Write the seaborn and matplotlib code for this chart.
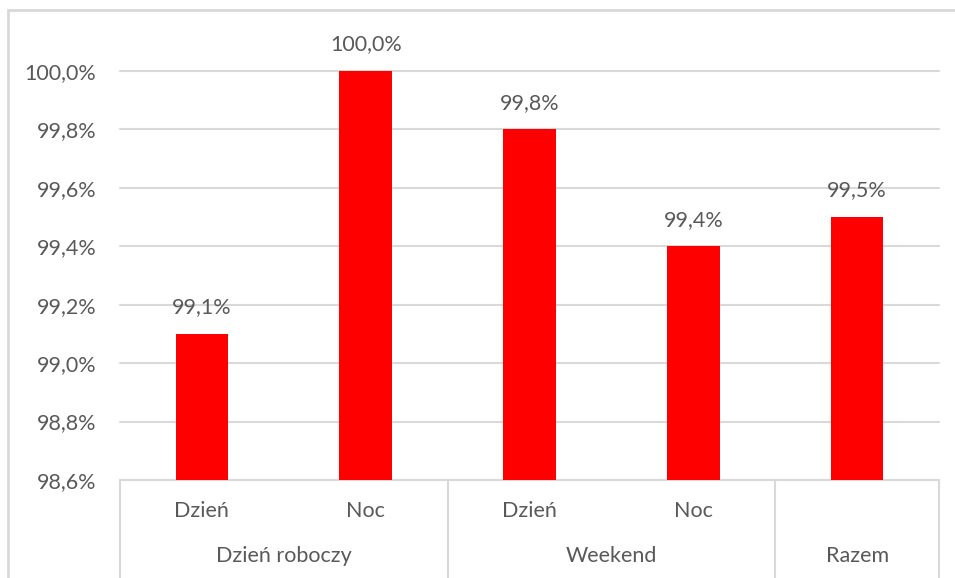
import matplotlib
matplotlib.use("Agg")
import matplotlib.pyplot as plt
import matplotlib.transforms as mtransforms
from matplotlib.lines import Line2D
import seaborn as sns
import pandas as pd

# Chart data
groups = ["Dzień roboczy", "Dzień roboczy", "Weekend", "Weekend", "Razem"]
subcats = ["Dzień", "Noc", "Dzień", "Noc", ""]
values = [99.1, 100.0, 99.8, 99.4, 99.5]
y_ticks = [98.6, 98.8, 99.0, 99.2, 99.4, 99.6, 99.8, 100.0]
group_names = ["Dzień roboczy", "Weekend", "Razem"]

sns.set_theme(style="white")
plt.rcParams["font.family"] = ["Lato", "DejaVu Sans"]

TEXT = "#595959"
GRID = "#d9d9d9"
RED = "#ff0000"
FS = 15.5

df = pd.DataFrame({
    "pos": [f"{g}|{s}|{i}" for i, (g, s) in enumerate(zip(groups, subcats))],
    "value": values,
})

fig = plt.figure(figsize=(9.55, 5.78), dpi=100)
W, H = 955, 578
ax = fig.add_axes([120 / W, 1 - 480 / H, (939 - 120) / W, (480 - 71) / H])

sns.barplot(data=df, x="pos", y="value", color=RED, width=0.32,
            saturation=1, linewidth=0, ax=ax, zorder=3)

ax.set_ylim(98.6, 100.0)
ax.set_xlim(-0.5, len(values) - 0.5)
ax.set_yticks(y_ticks)
ax.set_yticklabels([f"{v:.1f}%".replace(".", ",") for v in y_ticks],
                   fontsize=FS, color=TEXT)
ax.tick_params(axis="y", length=0, pad=17)
ax.set_xticks([])
ax.set_xlabel("")
ax.set_ylabel("")
for s in ax.spines.values():
    s.set_visible(False)
ax.grid(False)
for v in y_ticks:
    ax.axhline(v, color=GRID, lw=1.5, zorder=1, clip_on=False)

# value labels above the bars
for i, v in enumerate(values):
    ax.annotate(f"{v:.1f}%".replace(".", ","), xy=(i, v), xytext=(0, 12),
                textcoords="offset points", ha="center", va="bottom",
                fontsize=FS, color=TEXT, annotation_clip=False)

# two-level category axis
trans = mtransforms.blended_transform_factory(ax.transData, fig.transFigure)
y_inner = 1 - 511 / H
y_outer = 1 - 556 / H
for i, s in enumerate(subcats):
    if s:
        ax.text(i, y_inner, s, transform=trans, ha="center", va="center",
                fontsize=FS, color=TEXT)
spans = {}
for i, g in enumerate(groups):
    spans.setdefault(g, []).append(i)
for g in group_names:
    idx = spans[g]
    ax.text((idx[0] + idx[-1]) / 2, y_outer, g, transform=trans,
            ha="center", va="center", fontsize=FS, color=TEXT)

bounds = [-0.5] + [spans[g][-1] + 0.5 for g in group_names]
for b in bounds:
    ax.add_line(Line2D([b, b], [0, 1 - 480 / H], transform=trans,
                       color=GRID, lw=1.5, clip_on=False))

# outer chart frame
fig.add_artist(Line2D([8 / W, 8 / W], [0, 1 - 10 / H], color=GRID, lw=2))
fig.add_artist(Line2D([8 / W, 1], [1 - 10 / H, 1 - 10 / H], color=GRID, lw=2))

fig.savefig("out.png", dpi=100)
